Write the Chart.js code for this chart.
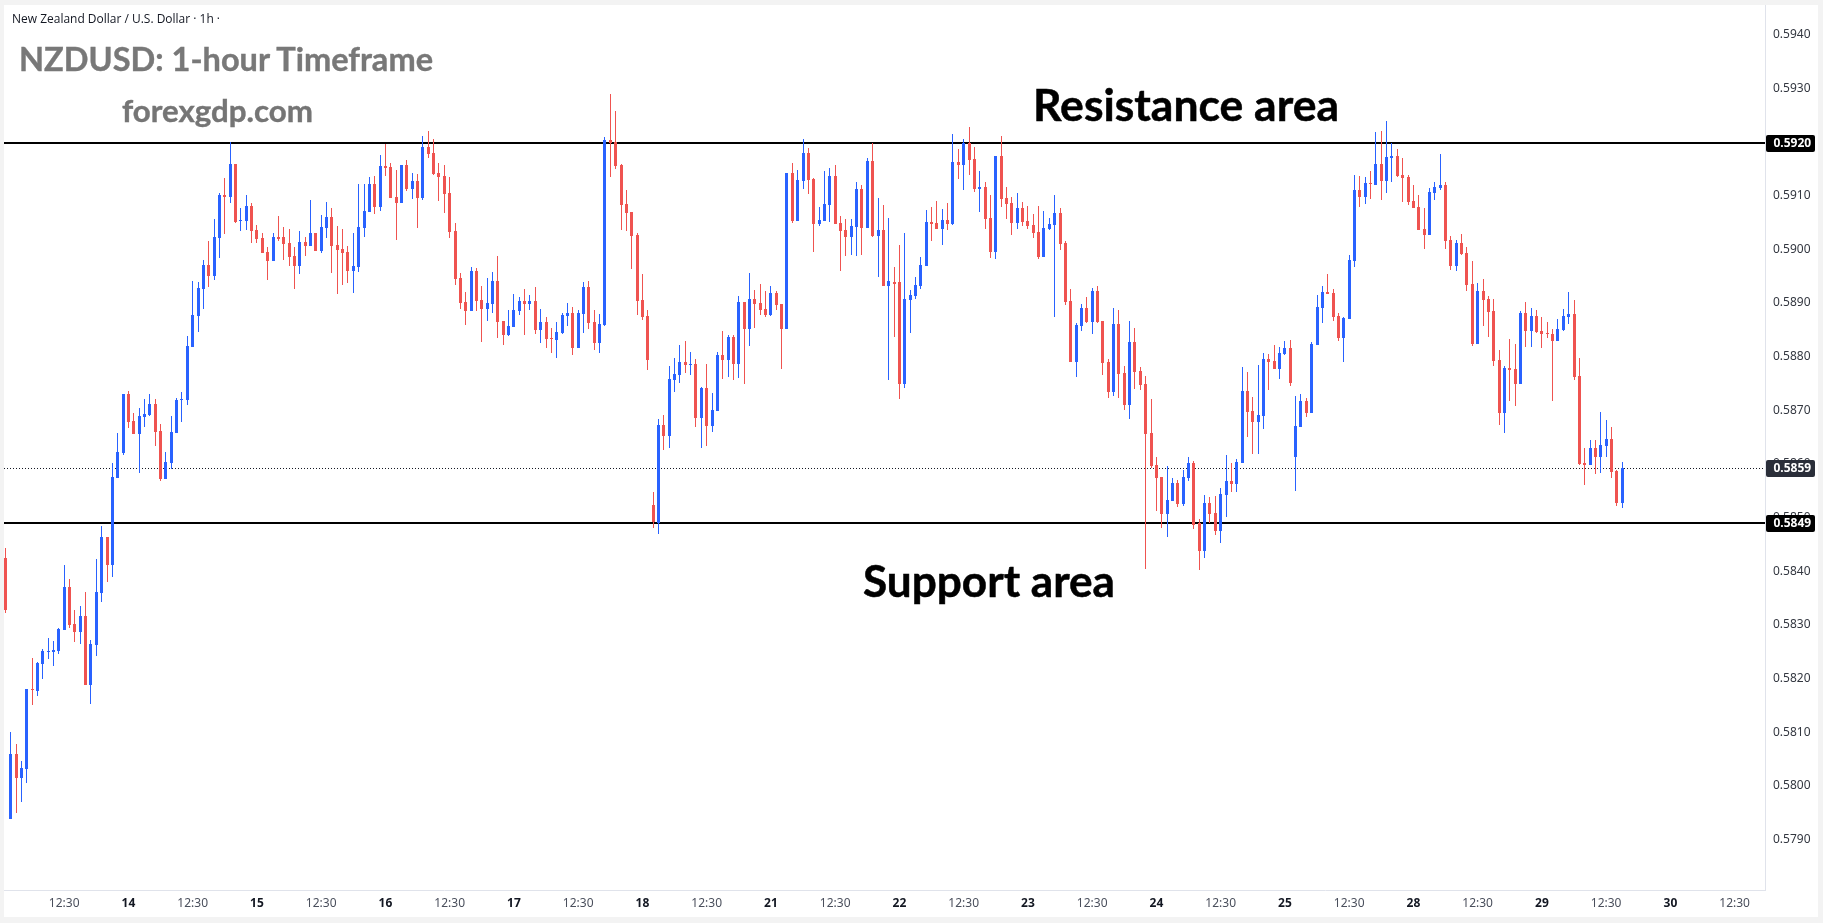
<!DOCTYPE html>
<html><head><meta charset="utf-8">
<script src="https://cdn.jsdelivr.net/npm/chart.js@4/dist/chart.umd.min.js"></script>
<style>
html,body{margin:0;padding:0;background:#f3f3f3;width:1823px;height:923px;overflow:hidden}
#box{position:absolute;left:4px;top:5px;width:1814px;height:912px;background:#fff}
canvas{display:block}
.t{position:absolute;white-space:nowrap;line-height:1;transform-origin:0 50%}
</style></head><body>
<div id="box"><canvas id="c" width="1814" height="912"></canvas></div>
<div class="t" data-w="208" style="left:12px;top:13px;font:12.5px/1 'Open Sans';color:#131722">New Zealand Dollar / U.S. Dollar · 1h ·</div>
<div class="t" data-w="414" style="left:19px;top:43px;font:bold 32px/1 Lato;color:#787878;-webkit-text-stroke:.4px #787878">NZDUSD: 1-hour Timeframe</div>
<div class="t" data-w="191" style="left:122px;top:95px;font:bold 31px/1 Lato;color:#757575;-webkit-text-stroke:.4px #757575">forexgdp.com</div>
<div class="t" data-w="306" style="left:1033px;top:82px;font:bold 44px/1 Lato;color:#000;-webkit-text-stroke:.5px #000">Resistance area</div>
<div class="t" data-w="252" style="left:863px;top:558px;font:bold 44px/1 Lato;color:#000;-webkit-text-stroke:.5px #000">Support area</div>
<script>
// Prices are in units of 0.00001 USD
const opens=[58425,57938,58059,58015,58031,58181,58177,58227,58249,58249,
58251,58291,58371,58302,58287,58317,58188,58263,58359,58464,
58412,58574,58620,58730,58680,58656,58687,58691,58712,58661,
58572,58602,58658,58719,58719,58818,58875,58926,58971,58950,
59021,59101,59097,59159,59053,59053,59081,59036,59021,58995,
58978,59023,59023,59012,58987,58969,59013,59006,59030,58997,
59040,59060,59008,59000,58995,58959,58967,59040,59069,59121,
59079,59155,59153,59097,59086,59157,59112,59127,59095,59190,
59179,59142,59136,59105,59034,58946,58902,58885,58959,58905,
58889,58898,58941,58866,58840,58855,58885,58904,58898,58904,
58849,58864,58835,58831,58844,58875,58881,58816,58879,58930,
58864,58825,58859,59203,59200,59157,59084,59069,59026,58905,
58875,58523,58490,58672,58652,58756,58766,58790,58784,58786,
58685,58741,58671,58699,58803,58794,58836,58786,58902,58851,
58907,58900,58889,58877,58918,58898,58851,59142,59053,59127,
59179,59131,59047,59053,59082,59136,59049,59036,59023,59041,
59112,59040,59164,59025,59036,58931,58939,58939,58749,58905,
58913,58931,58969,59051,59049,59038,59054,59047,59162,59157,
59198,59168,59112,59116,59058,58995,59174,59095,59086,59049,
59077,59053,59045,59032,58985,59038,59045,59067,59012,58904,
58790,58857,58891,58864,58922,58866,58790,58734,58861,58769,
58710,58827,58773,58749,58658,58598,58576,58507,58531,58564,
58525,58574,58602,58490,58438,58527,58509,58475,58542,58568,
58562,58602,58736,58699,58678,58689,58795,58792,58777,58805,
58816,58613,58669,58717,58695,58821,58891,58920,58918,58875,
58835,58870,58978,59110,59097,59123,59120,59159,59127,59170,
59174,59138,59135,59090,59079,59038,59026,59105,59114,59120,
59017,58969,59012,58993,58935,58823,58922,58907,58885,58794,
58695,58779,58777,58749,58881,58848,58875,58848,58844,58842,
58829,58849,58874,58879,58764,58602,58598,58630,58613,58633,
58646,58587,58527];
const highs=[58443,58100,58078,58046,58181,58238,58231,58255,58276,58270,
58294,58412,58385,58328,58335,58361,58272,58423,58484,58464,
58602,58658,58730,58736,58695,58704,58721,58730,58721,58674,
58622,58689,58723,58734,58838,58941,58939,58980,59015,59056,
59105,59133,59200,59159,59077,59101,59086,59045,59030,59004,
59030,59062,59041,59038,59004,59034,59023,59092,59030,59064,
59088,59077,59043,59038,59006,59030,59121,59121,59135,59136,
59176,59196,59161,59148,59157,59166,59142,59140,59211,59220,
59205,59161,59157,59135,59049,58956,58920,58967,58965,58931,
58946,58957,58987,58866,58887,58917,58911,58926,58915,58930,
58889,58874,58853,58864,58881,58900,58892,58887,58939,58941,
58887,58879,59209,59289,59257,59159,59110,59069,59030,58954,
58887,58548,58684,58691,58782,58797,58821,58829,58808,58795,
58743,58786,58732,58808,58848,58840,58840,58913,58902,58956,
58924,58935,58922,58931,58922,58898,59142,59161,59148,59205,
59189,59133,59079,59146,59151,59157,59062,59056,59056,59125,
59120,59170,59198,59095,59082,59058,58967,59008,59030,58924,
58948,58985,59073,59079,59090,59075,59086,59215,59187,59205,
59228,59190,59146,59125,59101,59174,59211,59116,59097,59105,
59088,59081,59066,59081,59071,59058,59101,59077,59015,58926,
58862,58898,58911,58928,58931,58866,58795,58891,58887,58782,
58866,58853,58780,58764,58721,58613,58576,58596,58574,58570,
58589,58613,58605,58497,58542,58538,58540,58555,58617,58602,
58609,58780,58771,58725,58784,58807,58805,58821,58818,58829,
58831,58726,58730,58723,58827,58915,58931,58954,58926,58881,
58874,58989,59138,59136,59135,59146,59218,59220,59239,59198,
59187,59170,59138,59120,59101,59077,59114,59125,59177,59125,
59025,59017,59028,59004,58978,58937,58944,58913,58907,58812,
58782,58833,58823,58885,58902,58891,58887,58874,58864,58851,
58870,58889,58920,58905,58797,58630,58645,58645,58697,58682,
58669,58589,58603];
const lows=[58322,57938,57950,57970,58005,58151,58167,58199,58236,58223,
58246,58291,58294,58268,58264,58188,58153,58242,58343,58380,
58389,58574,58617,58667,58656,58583,58669,58689,58633,58568,
58572,58590,58658,58678,58710,58818,58846,58889,58930,58943,
58984,59028,59086,59049,59034,59036,59012,59012,58993,58943,
58978,59015,58980,58969,58926,58954,58987,59006,58997,58993,
59021,58956,58917,58933,58937,58918,58957,59023,59069,59066,
59071,59136,59095,59017,59086,59108,59094,59040,59092,59170,
59138,59090,59067,59021,58933,58889,58859,58885,58885,58827,
58866,58881,58835,58821,58838,58855,58877,58840,58887,58842,
58825,58816,58807,58797,58842,58857,58803,58816,58844,58851,
58812,58807,58857,59135,59149,59036,59034,58963,58877,58868,
58775,58481,58469,58626,58630,58734,58751,58769,58766,58669,
58630,58633,58659,58699,58758,58762,58756,58760,58749,58820,
58853,58877,58874,58875,58887,58777,58851,59049,59053,59112,
59103,58995,59043,59053,59051,59047,58959,58987,58989,58987,
58989,59040,59023,58948,58931,58756,58836,58721,58741,58844,
58907,58926,58969,59015,59038,59008,59036,59045,59131,59110,
59138,59107,59069,59038,58984,58982,59079,59056,59026,59038,
59043,59038,59021,58982,58985,59036,58874,58999,58896,58790,
58762,58848,58862,58842,58862,58766,58723,58726,58723,58700,
58684,58739,58738,58404,58592,58512,58481,58464,58531,58520,
58522,58568,58479,58402,58425,58490,58468,58453,58501,58548,
58548,58602,58650,58618,58618,58665,58738,58777,58758,58803,
58745,58549,58669,58687,58695,58821,58862,58917,58866,58829,
58790,58870,58967,59079,59084,59094,59120,59092,59105,59125,
59135,59088,59082,59077,59036,59000,59026,59092,59110,59000,
58961,58959,58989,58922,58820,58823,58857,58836,58782,58672,
58658,58717,58708,58749,58818,58818,58844,58816,58835,58717,
58829,58848,58861,58756,58598,58561,58598,58581,58583,58613,
58574,58522,58518];
const closes=[58328,58059,58015,58033,58181,58179,58229,58251,58251,58253,
58292,58371,58300,58287,58317,58188,58264,58361,58464,58412,
58576,58622,58730,58678,58656,58689,58693,58712,58659,58572,
58603,58659,58719,58721,58820,58877,58928,58971,58950,59023,
59101,59097,59159,59051,59054,59081,59034,59019,58993,58978,
59023,59019,59010,58985,58969,59013,59006,59030,58997,59041,
59060,59006,58999,58993,58959,58969,59041,59071,59121,59079,
59155,59151,59095,59086,59157,59112,59127,59095,59190,59177,
59140,59135,59103,59032,58944,58900,58885,58959,58904,58889,
58900,58941,58864,58840,58857,58887,58904,58898,58904,58849,
58864,58833,58833,58846,58877,58881,58816,58881,58930,58862,
58825,58861,59203,59198,59155,59082,59067,59025,58904,58874,
58794,58492,58672,58652,58758,58767,58790,58784,58786,58685,
58741,58671,58700,58803,58794,58836,58786,58902,58851,58907,
58898,58887,58877,58918,58896,58851,59142,59053,59129,59179,
59129,59047,59054,59084,59136,59047,59034,59023,59043,59112,
59040,59164,59025,59036,58931,58941,58935,58749,58907,58915,
58933,58971,59051,59047,59038,59054,59047,59162,59157,59198,
59166,59112,59116,59056,58995,59174,59094,59084,59049,59077,
59051,59043,59030,58985,59040,59047,59067,59010,58902,58790,
58859,58891,58864,58922,58864,58788,58734,58861,58767,58710,
58827,58771,58747,58656,58596,58574,58507,58533,58564,58525,
58576,58602,58486,58438,58527,58507,58475,58544,58568,58562,
58603,58736,58697,58678,58691,58795,58790,58777,58807,58816,
58751,58671,58717,58695,58823,58892,58920,58917,58874,58835,
58872,58980,59110,59097,59123,59121,59159,59127,59172,59174,
59136,59133,59088,59077,59036,59026,59107,59116,59120,59015,
58969,59012,58991,58933,58823,58922,58905,58883,58792,58695,
58779,58775,58749,58881,58848,58875,58846,58842,58842,58829,
58851,58875,58879,58762,58600,58598,58630,58613,58635,58646,
58585,58527,58592];
const priceTicks=[57900,58000,58100,58200,58300,58400,58500,58600,58700,58800,58900,59000,59100,59200,59300,59400];
const timeTickIndex=[11,23,35,47,59,71,83,95,107,119,131,143,155,167,179,191,203,215,227,239,251,263,275,287,299,311,323];
const timeTickLabels=['12:30','14','12:30','15','12:30','16','12:30','17','12:30','18','12:30','21','12:30','22','12:30','23','12:30','24','12:30','25','12:30','28','12:30','29','12:30','30','12:30'];
const resistance=59197.9, support=58489.8, lastPrice=58591.4;
const UP='#2962ff', DOWN='#ef5350', AXIS='#e0e3eb';
const xMin=-0.243, xMax=328.67, yMin=57806, yMax=59455;

const idx=opens.map((_,i)=>i);
const colors=idx.map(i=>closes[i]>=opens[i]?UP:DOWN);
const wicks=idx.map(i=>({x:i,y:[lows[i],highs[i]]}));
const bodies=idx.map(i=>({x:i,y:[opens[i],closes[i]]}));
const hline=v=>[{x:xMin,y:v},{x:xMax,y:v}];

const snap={id:'snap',beforeDatasetsDraw(ch){
  ch.data.datasets.forEach((d,n)=>{ if(d.type==='line')return;
    ch.getDatasetMeta(n).data.forEach(el=>{
      el.x=Math.floor(el.x)+0.5;
      let a=Math.round(el.y),b=Math.round(el.base);
      if(a===b)b=a+1;
      el.y=a;el.base=b;
    });
  });
}};
const tags={id:'tags',afterDraw(ch){
  const c=ch.ctx,s=ch.scales.y;
  [[resistance,'#000'],[support,'#000'],[lastPrice,'#2a2e39']].forEach(([v,bg])=>{
    const y=Math.round(s.getPixelForValue(v));
    c.save();
    c.fillStyle=bg;
    c.beginPath();c.roundRect(ch.chartArea.right+1,y-8,49,17,2);c.fill();
    c.fillStyle='#fff';c.font="bold 12px 'Noto Sans'";c.textAlign='left';c.textBaseline='middle';
    c.fillText((v/1e5).toFixed(4),ch.chartArea.right+8.5,y+1);
    c.restore();
  });
}};
const noPad=s=>{s.paddingLeft=s.paddingRight=s.paddingTop=s.paddingBottom=0;};

new Chart(document.getElementById('c'),{
  type:'bar',
  data:{datasets:[
    {type:'line',data:hline(resistance),borderColor:'#000',borderWidth:2,pointRadius:0,order:3},
    {type:'line',data:hline(support),borderColor:'#000',borderWidth:2,pointRadius:0,order:3},
    {type:'line',data:hline(lastPrice),borderColor:'#131722',borderWidth:1,borderDash:[1,2],pointRadius:0,order:3},
    {data:bodies,backgroundColor:colors,barThickness:3,grouped:false,inflateAmount:0,borderWidth:0,order:1},
    {data:wicks,backgroundColor:colors,barThickness:1,grouped:false,inflateAmount:0,borderWidth:0,order:2}
  ]},
  plugins:[snap,tags],
  options:{
    responsive:false,animation:false,devicePixelRatio:1,
    layout:{padding:0},
    plugins:{legend:{display:false},tooltip:{enabled:false}},
    events:[],
    scales:{
      x:{type:'linear',offset:false,min:xMin,max:xMax,
        grid:{display:false,drawTicks:false},border:{color:AXIS,width:1},
        afterBuildTicks(s){s.ticks=timeTickIndex.map(v=>({value:v}));},
        afterFit(s){s.height=27;noPad(s);},
        ticks:{autoSkip:false,maxRotation:0,minRotation:0,padding:6,
          callback(v){return timeTickLabels[timeTickIndex.indexOf(v)];},
          font(ctx){return {family:"'Noto Sans'",size:12,weight:ctx.index%2?'bold':'normal'};},
          color(ctx){return ctx.index%2?'#131722':'#4a4f5c';}}
      },
      y:{position:'right',min:yMin,max:yMax,
        grid:{display:false,drawTicks:false},border:{color:AXIS,width:1},
        afterBuildTicks(s){s.ticks=priceTicks.map(v=>({value:v}));},
        afterFit(s){s.width=53;noPad(s);},
        ticks:{padding:8,callback(v){return (v/1e5).toFixed(4);},
          font:{family:"'Noto Sans'",size:12},color:'#333740'}
      }
    }
  }
});
document.querySelectorAll('.t[data-w]').forEach(el=>{
  const w=el.getBoundingClientRect().width;
  el.style.transform='scaleX('+(+el.dataset.w/w)+')';
});
</script>
</body></html>
